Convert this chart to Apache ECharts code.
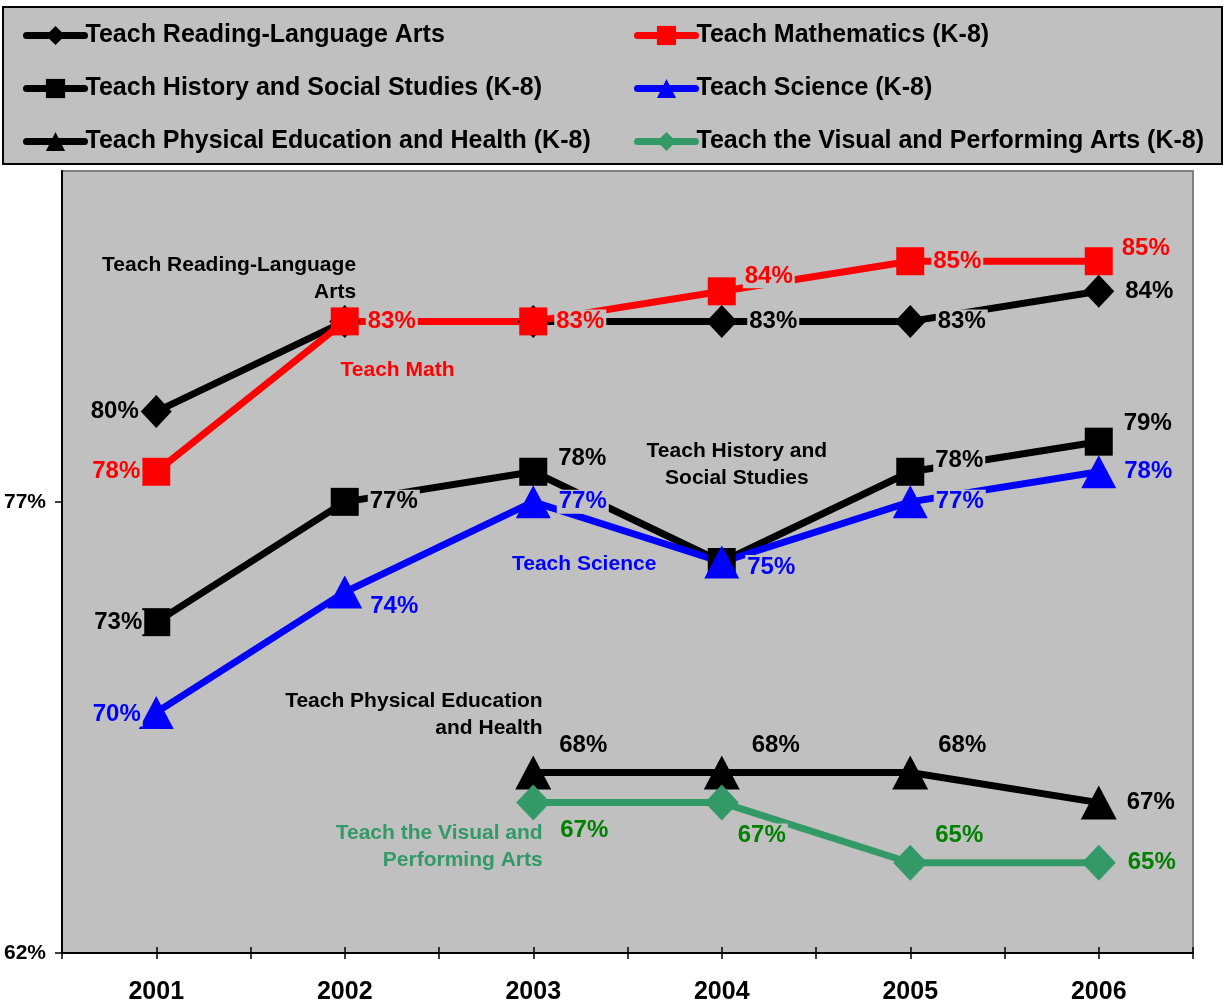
<!DOCTYPE html>
<html>
<head>
<meta charset="utf-8">
<script src="https://cdn.jsdelivr.net/npm/echarts@6/dist/echarts.min.js"></script>
<style>
  html, body { margin: 0; padding: 0; background: #fff; }
  #chart { width: 1225px; height: 1007px; }
</style>
</head>
<body>
<div id="chart"></div>
<script>
// data
const years = ['2001', '2002', '2003', '2004', '2005', '2006']
const reading = [80, 83, 83, 83, 83, 84]
const math = [78, 83, 83, 84, 85, 85]
const history = [73, 77, 78, 75, 78, 79]
const science = [70, 74, 77, 75, 77, 78]
const physEd = [null, null, 68, 68, 68, 67]
const visualArts = [null, null, 67, 67, 65, 65]
const yTickValues = [62, 77]

const FONT = 'Arial, "Liberation Sans", sans-serif'
const PLOT_BG = '#C0C0C0'

// label placement per point: [side, dy, distance]; null = no label
const lines = [
  { name: 'Teach Reading-Language Arts', data: reading, color: '#000000', labelColor: '#000000',
    symbol: 'diamond', size: [31, 33],
    place: [['l', 0, 0], null, null, ['r', 0, 10], ['r', 0, 10], ['r', 0, 9]] },
  { name: 'Teach Mathematics (K-8)', data: math, color: '#FF0000', labelColor: '#FF0000',
    symbol: 'rect', size: 28,
    place: [['l', 0, 0], ['r', 0, 7], ['r', 0, 7], ['r', -15, 7], ['r', 0, 7], ['r', -13, 7]] },
  { name: 'Teach History and Social Studies (K-8)', data: history, color: '#000000', labelColor: '#000000',
    symbol: 'rect', size: 28,
    place: [['l', 0, -2], ['r', 0, 9], ['r', -13, 9], null, ['r', -11, 9], ['r', -18, 9]] },
  { name: 'Teach Science (K-8)', data: science, color: '#0000FF', labelColor: '#0000FF',
    symbol: 'triangle', size: [35, 33],
    place: [['l', 2, -4], ['r', 14, 6], ['r', 0, 6], ['r', 5, 6], ['r', 0, 6], ['r', 0, 6]] },
  { name: 'Teach Physical Education and Health (K-8)', data: physEd, color: '#000000', labelColor: '#000000',
    symbol: 'triangle', size: [36, 34],
    place: [null, null, ['r', -27, 6], ['r', -27, 10], ['r', -27, 8], ['r', 0, 8]] },
  { name: 'Teach the Visual and Performing Arts (K-8)', data: visualArts, color: '#339966', labelColor: '#008000',
    symbol: 'diamond', size: [34, 36],
    place: [null, null, ['r', 28, 8], ['r', 33, -3], ['r', -27, 6], ['r', 0, 10]] }
]

// series names written inside the plot, anchored in data units
const notes = [
  { text: 'Teach Reading-Language\nArts', x: 2.06, y: 84.43, align: 'right', color: '#000000' },
  { text: 'Teach Math', x: 2.28, y: 81.38, align: 'center', color: '#FF0000' },
  { text: 'Teach History and\nSocial Studies', x: 4.08, y: 78.22, align: 'center', color: '#000000' },
  { text: 'Teach Science', x: 3.27, y: 74.93, align: 'center', color: '#0000FF' },
  { text: 'Teach Physical Education\nand Health', x: 3.05, y: 69.91, align: 'right', color: '#000000' },
  { text: 'Teach the Visual and\nPerforming Arts', x: 3.05, y: 65.55, align: 'right', color: '#339966' }
]

const xTickValues = []
for (let t = 0.5; t <= 6.5; t += 0.5) xTickValues.push(t)

function buildSeries (s) {
  const data = []
  s.data.forEach((v, i) => {
    if (v == null) return
    const p = s.place[i]
    data.push({
      value: [i + 1, v],
      label: p
        ? { show: true, position: p[0] === 'l' ? 'left' : 'right', distance: p[2], offset: [0, p[1]] }
        : { show: false }
    })
  })
  return {
    name: s.name,
    type: 'line',
    color: s.color,
    symbol: s.symbol,
    symbolSize: s.size,
    showAllSymbol: true,
    lineStyle: { width: 7, color: s.color },
    itemStyle: { color: s.color },
    label: {
      color: s.labelColor,
      fontSize: 24,
      fontWeight: 'bold',
      fontFamily: FONT,
      backgroundColor: PLOT_BG,
      padding: [0, 2],
      formatter: p => p.value[1] + '%'
    },
    emphasis: { disabled: true },
    data: data
  }
}

const legendText = { fontSize: 25, fontWeight: 'bold', fontFamily: FONT, color: '#000', padding: [0, 0, 0, -4] }
const legendBase = {
  orient: 'vertical',
  top: 18,
  itemWidth: 58,
  itemHeight: 24,
  itemGap: 28,
  selectedMode: false,
  textStyle: legendText,
  lineStyle: { width: 7, cap: 'round' }
}

const chart = echarts.init(document.getElementById('chart'))
chart.setOption({
  animation: false,
  backgroundColor: '#ffffff',
  textStyle: { fontFamily: FONT },
  legend: [
    Object.assign({ left: 18, data: [lines[0].name, lines[2].name, lines[4].name] }, legendBase),
    Object.assign({ left: 629, data: [lines[1].name, lines[3].name, lines[5].name] }, legendBase)
  ],
  grid: {
    left: 62, right: 32, top: 171, bottom: 54,
    show: true,
    backgroundColor: PLOT_BG,
    borderColor: '#808080',
    borderWidth: 2
  },
  xAxis: [{
    type: 'value', min: 0.5, max: 6.5,
    axisLine: { show: true, lineStyle: { color: '#000', width: 2 } },
    axisTick: { show: true, customValues: xTickValues, length: 6, lineStyle: { color: '#000', width: 1.5 } },
    axisLabel: {
      customValues: [1, 2, 3, 4, 5, 6],
      formatter: v => years[Math.round(v) - 1],
      fontSize: 25, fontWeight: 'bold', fontFamily: FONT, color: '#000', margin: 27
    },
    splitLine: { show: false }
  }, {
    type: 'value', min: 0.5, max: 6.5, position: 'bottom',
    axisLine: { show: false },
    axisTick: { show: true, inside: true, customValues: xTickValues, length: 6, lineStyle: { color: '#000', width: 1.5 } },
    axisLabel: { show: false },
    splitLine: { show: false }
  }],
  yAxis: {
    type: 'value', min: 62, max: 88,
    axisLine: { show: true, lineStyle: { color: '#000', width: 2 } },
    axisTick: { show: true, customValues: yTickValues, length: 7, lineStyle: { color: '#000', width: 1.5 } },
    axisLabel: {
      customValues: yTickValues,
      formatter: '{value}%',
      fontSize: 21, fontWeight: 'bold', fontFamily: FONT, color: '#000', margin: 16
    },
    splitLine: { show: false }
  },
  series: lines.map(buildSeries)
})

// legend box and in-plot notes
const graphics = [{
  type: 'rect', z: -1,
  shape: { x: 3, y: 7, width: 1219, height: 157 },
  style: { fill: PLOT_BG, stroke: '#000', lineWidth: 2 }
}]
notes.forEach(n => {
  const pt = chart.convertToPixel({ gridIndex: 0 }, [n.x, n.y])
  graphics.push({
    type: 'text', z: 10,
    style: {
      text: n.text, x: pt[0], y: pt[1],
      fill: n.color,
      font: 'bold 21px ' + FONT,
      textAlign: n.align,
      textVerticalAlign: 'middle',
      lineHeight: 27
    }
  })
})
chart.setOption({ graphic: graphics })
</script>
</body>
</html>
